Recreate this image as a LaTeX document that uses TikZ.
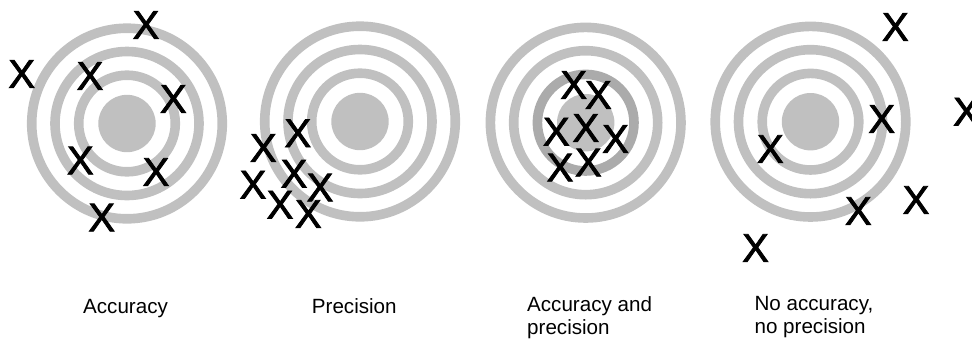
\documentclass[tikz,border=0pt]{standalone}
\usepackage{fontspec}
\setmainfont{Liberation Sans}
\newfontfamily\hitfont[FakeBold=2]{Liberation Sans}
\definecolor{ringgray}{HTML}{C0C0C0}
\definecolor{ringdark}{HTML}{ABABAB}
\begin{document}
\begin{tikzpicture}[x=1pt,y=-1pt,
  ring/.style={draw=ringgray,line width=9.6pt},
  eye/.style={fill=ringgray},
  hit/.style={font=\hitfont\fontsize{40}{40}\selectfont,inner sep=0pt,text=black},
  caption/.style={font=\fontsize{20.6}{22.7}\selectfont,inner sep=0pt,align=left,anchor=base west}]
\useasboundingbox (0,0) rectangle (972,341);
\clip (0,0) rectangle (972,341);
% target centres
\coordinate (t1) at (127,123.5);
\coordinate (t2) at (360,121.5);
\coordinate (t3) at (585.7,122.7);
\coordinate (t4) at (810.5,121.7);
% targets
\foreach \c/\third in {t1/ringgray,t2/ringgray,t3/ringdark,t4/ringgray}{
  \draw[ring] (\c) circle[radius=95.3pt];
  \draw[ring] (\c) circle[radius=72pt];
  \draw[ring,draw=\third] (\c) circle[radius=48.3pt];
  \fill[eye] (\c) circle[radius=28.7pt];
}
% hits: target 1
\node[hit] (a1) at (146,25) {X};
\node[hit] (a2) at (21.7,74) {X};
\node[hit] (a3) at (90,76) {X};
\node[hit] (a4) at (173.3,99) {X};
\node[hit] (a5) at (80.3,160.5) {X};
\node[hit] (a6) at (156,172) {X};
\node[hit] (a7) at (101.7,217.5) {X};
% hits: target 2
\node[hit] (b1) at (297.8,133.3) {X};
\node[hit] (b2) at (263.3,148) {X};
\node[hit] (b3) at (294,173.8) {X};
\node[hit] (b4) at (253,184.7) {X};
\node[hit] (b5) at (320,187.5) {X};
\node[hit] (b6) at (280,204.7) {X};
\node[hit] (b7) at (308.3,214) {X};
% hits: target 3
\node[hit] (c1) at (573.7,85) {X};
\node[hit] (c2) at (598.3,95) {X};
\node[hit] (c3) at (556.3,131.7) {X};
\node[hit] (c4) at (585.8,128) {X};
\node[hit] (c5) at (615.5,139) {X};
\node[hit] (c6) at (560,167.5) {X};
\node[hit] (c7) at (588.3,162.5) {X};
% hits: target 4
\node[hit] (d1) at (895.3,27) {X};
\node[hit] (d2) at (966.5,111.7) {X};
\node[hit] (d3) at (881.7,119) {X};
\node[hit] (d4) at (770.3,149) {X};
\node[hit] (d5) at (916,200) {X};
\node[hit] (d6) at (858.3,211) {X};
\node[hit] (d7) at (755.5,248) {X};
% captions
\node[caption] (l1) at (83,313) {Accuracy};
\node[caption] (l2) at (311.7,313) {Precision};
\node[caption] (l3) at (527,334.3) {Accuracy and\\precision};
\node[caption] (l4) at (754.4,333.3) {No accuracy,\\no precision};
\end{tikzpicture}
\end{document}
